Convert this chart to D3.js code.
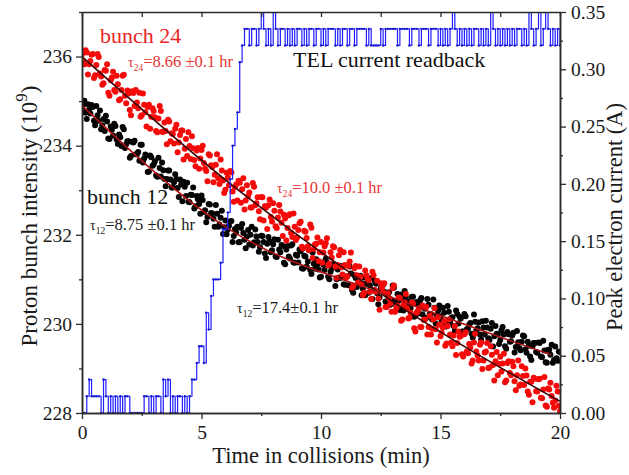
<!DOCTYPE html>
<html>
<head>
<meta charset="utf-8">
<script src="https://cdn.jsdelivr.net/npm/d3@7"></script>
<style>
  body { margin: 0; background: #fff; }
  svg { display: block; font-family: "Liberation Serif", "Times New Roman", serif; }
</style>
</head>
<body>
<div id="chart"></div>
<script>
// Axis ticks
const xTicks = [0, 5, 10, 15, 20];
const xMinorTicks = [2.5, 7.5, 12.5, 17.5];
const leftTicks = [228, 230, 232, 234, 236];
const leftMinorTicks = [229, 231, 233, 235, 237];
const rightTicks = [0, 0.05, 0.10, 0.15, 0.20, 0.25, 0.30, 0.35];
const rightMinorTicks = [0.025, 0.075, 0.125, 0.175, 0.225, 0.275, 0.325];

// Bunch 24 intensity (10^9) vs time (min)
const bunch24 = [
  [0,236.05],[0.1,235.83],[0.2,236.09],[0.3,235.83],[0.4,236.04],[0.5,235.52],[0.6,235.81],[0.7,235.99],[0.8,235.55],[0.9,235.40],
  [1,235.68],[1.1,235.19],[1.2,235.47],[1.3,235.66],[1.4,235.21],[1.5,235.38],[1.6,235.04],[1.7,235.57],[1.8,235.12],[1.9,235.24],
  [2,234.80],[2.1,235.22],[2.2,234.89],[2.3,234.97],[2.4,235.19],[2.5,234.68],[2.6,234.92],[2.7,234.43],[2.8,234.92],[2.9,234.65],
  [3,234.78],[3.1,234.33],[3.2,234.61],[3.3,234.78],[3.4,234.31],[3.5,234.33],[3.6,234.58],[3.7,234.10],[3.8,234.26],[3.9,234.38],
  [4,233.85],[4.1,234.24],[4.2,234.34],[4.3,233.93],[4.4,233.77],[4.5,233.99],[4.6,234.21],[4.7,233.68],[4.8,233.89],[4.9,233.48],
  [5,233.90],[5.1,233.61],[5.2,233.43],[5.3,233.81],[5.4,233.56],[5.5,233.18],[5.6,233.57],[5.7,233.27],[5.8,233.69],[5.9,233.22],
  [6,233.01],[6.1,233.28],[6.2,233.43],[6.3,232.97],[6.4,233.07],[6.5,232.77],[6.6,233.17],[6.7,233.02],[6.8,232.57],[6.9,233.11],
  [7,232.95],[7.1,232.61],[7.2,233.08],[7.3,232.71],[7.4,232.53],[7.5,232.85],[7.6,232.32],[7.7,232.61],[7.8,232.66],[7.9,232.40],
  [8,232.71],[8.1,232.19],[8.2,232.39],[8.3,232.52],[8.4,231.97],[8.5,232.37],[8.6,232.15],[8.7,232.46],[8.8,231.95],[8.9,232.18],
  [9,231.94],[9.1,232.26],[9.2,231.73],[9.3,232.09],[9.4,231.93],[9.5,231.66],[9.6,232.16],[9.7,231.68],[9.8,231.80],[9.9,231.41],
  [10,231.84],[10.1,231.60],[10.2,231.81],[10.3,231.31],[10.4,231.61],[10.5,231.74],[10.6,231.29],[10.7,231.32],[10.8,231.66],[10.9,231.11],
  [11,231.32],[11.1,231.07],[11.2,231.40],[11.3,230.81],[11.4,231.25],[11.5,231.09],[11.6,231.29],[11.7,230.89],[11.8,230.70],[11.9,231.09],
  [12,230.98],[12.1,230.56],[12.2,231.09],[12.3,230.72],[12.4,230.57],[12.5,230.91],[12.6,230.71],[12.7,230.38],[12.8,230.69],[12.9,230.46],
  [13,230.80],[13.1,230.27],[13.2,230.41],[13.3,230.58],[13.4,230.10],[13.5,230.48],[13.6,230.35],[13.7,230.14],[13.8,230.48],[13.9,229.90],
  [14,230.25],[14.1,230.35],[14.2,229.93],[14.3,230.09],[14.4,230.38],[14.5,229.93],[14.6,229.76],[14.7,230.10],[14.8,229.88],[14.9,230.15],
  [15,229.72],[15.1,229.92],[15.2,229.51],[15.3,229.95],[15.4,229.76],[15.5,229.50],[15.6,229.95],[15.7,229.57],[15.8,229.71],[15.9,229.32],
  [16,229.77],[16.1,229.38],[16.2,229.55],[16.3,229.11],[16.4,229.58],[16.5,229.38],[16.6,229.18],[16.7,229.58],[16.8,229.18],[16.9,229.38],
  [17,229.01],[17.1,229.50],[17.2,229.08],[17.3,229.16],[17.4,228.85],[17.5,229.26],[17.6,229.11],[17.7,228.69],[17.8,229.12],[17.9,228.90],
  [18,229.15],[18.1,228.71],[18.2,228.85],[18.3,228.61],[18.4,229.05],[18.5,228.63],[18.6,228.84],[18.7,228.41],[18.8,228.70],[18.9,228.79],
  [19,228.49],[19.1,228.76],[19.2,228.34],[19.3,228.53],[19.4,228.17],[19.5,228.55],[19.6,228.68],[19.7,228.23],[19.8,228.28],[19.9,228.48],
  [20,228.04]
];
// samples read between the ones above
const bunch24Mid = [
  [0.05,235.87],[0.15,236.14],[0.25,235.60],[0.35,235.90],[0.45,236.06],[0.55,235.58],[0.65,236.06],[0.75,235.62],[0.85,235.37],[0.95,235.70],
  [1.05,235.83],[1.15,235.12],[1.25,235.53],[1.35,235.25],[1.45,235.57],[1.55,235.02],[1.65,235.25],[1.75,235.59],[1.85,234.95],[1.95,235.17],
  [2.05,234.68],[2.15,235.18],[2.25,235.25],[2.35,234.84],[2.45,234.65],[2.55,235.17],[2.65,234.75],[2.75,234.87],[2.85,234.38],[2.95,234.84],
  [3.05,234.64],[3.15,234.30],[3.25,234.89],[3.35,234.31],[3.45,234.52],[3.55,234.03],[3.65,234.54],[3.75,234.28],[3.85,234.05],[3.95,234.47],
  [4.05,234.07],[4.15,234.34],[4.25,233.69],[4.35,234.15],[4.45,234.30],[4.55,233.70],[4.65,233.94],[4.75,233.54],[4.85,233.95],[4.95,233.71],
  [5.05,234.00],[5.15,233.49],[5.25,233.20],[5.35,233.78],[5.45,233.52],[5.55,233.35],[5.65,233.81],[5.75,233.14],[5.85,233.44],[5.95,232.94],
  [6.05,233.39],[6.15,233.11],[6.25,233.40],[6.35,232.74],[6.45,233.13],[6.55,233.21],[6.65,232.72],[6.75,233.27],[6.85,232.77],[6.95,232.87],
  [7.05,232.61],[7.15,233.16],[7.25,232.66],[7.35,232.84],[7.45,232.35],[7.55,232.84],[7.65,232.64],[7.75,232.13],[7.85,232.79],[7.95,232.30],
  [8.05,232.54],[8.15,232.15],[8.25,232.67],[8.35,232.27],[8.45,232.45],[8.55,231.87],[8.65,232.44],[8.75,232.04],[8.85,232.48],[8.95,231.88],
  [9.05,232.11],[9.15,232.29],[9.25,231.69],[9.35,232.07],[9.45,231.74],[9.55,232.23],[9.65,231.48],[9.75,231.79],[9.85,231.94],[9.95,231.61],
  [10.05,231.37],[10.15,231.74],[10.25,231.92],[10.35,231.35],[10.45,231.49],[10.55,231.72],[10.65,231.03],[10.75,231.54],[10.85,231.27],[10.95,231.61],
  [11.05,231.04],[11.15,231.30],[11.25,231.60],[11.35,230.85],[11.45,231.30],[11.55,230.93],[11.65,231.06],[11.75,230.64],[11.85,231.20],[11.95,231.01],
  [12.05,230.72],[12.15,231.17],[12.25,230.76],[12.35,230.97],[12.45,230.32],[12.55,230.81],[12.65,230.91],[12.75,230.38],[12.85,230.57],[12.95,230.27],
  [13.05,230.86],[13.15,230.35],[13.25,230.59],[13.35,230.07],[13.45,230.42],[13.55,230.67],[13.65,230.12],[13.75,230.25],[13.85,230.46],[13.95,229.83],
  [14.05,230.29],[14.15,229.93],[14.25,230.41],[14.35,230.10],[14.45,229.76],[14.55,230.18],[14.65,229.89],[14.75,230.35],[14.85,229.58],[14.95,229.98],
  [15.05,229.80],[15.15,230.06],[15.25,229.56],[15.35,230.10],[15.45,229.58],[15.55,229.74],[15.65,229.30],[15.75,229.83],[15.85,229.73],[15.95,229.27],
  [16.05,229.81],[16.15,229.34],[16.25,229.47],[16.35,229.18],[16.45,229.78],[16.55,229.29],[16.65,229.53],[16.75,228.99],[16.85,229.36],[16.95,229.57],
  [17.05,229.02],[17.15,229.31],[17.25,228.73],[17.35,229.37],[17.45,229.10],[17.55,228.93],[17.65,229.33],[17.75,228.73],[17.85,229.16],[17.95,228.85],
  [18.05,229.05],[18.15,228.51],[18.25,229.18],[18.35,228.64],[18.45,228.83],[18.55,229.00],[18.65,228.48],[18.75,228.70],[18.85,228.24],[18.95,228.77],
  [19.05,228.48],[19.15,228.77],[19.25,228.33],[19.35,228.81],[19.45,228.14],[19.55,228.53],[19.65,228.38],[19.75,228.12],[19.85,228.61],[19.95,228.16]
];

// Bunch 12 intensity (10^9) vs time (min)
const bunch12 = [
  [0,234.82],[0.1,235.01],[0.2,234.60],[0.3,234.81],[0.4,234.91],[0.5,234.56],[0.6,234.89],[0.7,234.56],[0.8,234.37],[0.9,234.60],
  [1,234.67],[1.1,234.16],[1.2,234.43],[1.3,234.23],[1.4,234.44],[1.5,234.04],[1.6,234.19],[1.7,234.42],[1.8,233.95],[1.9,234.10],
  [2,233.73],[2.1,234.08],[2.2,234.11],[2.3,233.81],[2.4,233.66],[2.5,234.02],[2.6,233.71],[2.7,233.78],[2.8,233.42],[2.9,233.74],
  [3,233.58],[3.1,233.33],[3.2,233.73],[3.3,233.31],[3.4,233.45],[3.5,233.09],[3.6,233.44],[3.7,233.24],[3.8,233.06],[3.9,233.36],
  [4,233.05],[4.1,233.24],[4.2,232.75],[4.3,233.08],[4.4,233.17],[4.5,232.73],[4.6,232.89],[4.7,232.59],[4.8,232.87],[4.9,232.69],
  [5,232.88],[5.1,232.51],[5.2,232.28],[5.3,232.69],[5.4,232.49],[5.5,232.36],[5.6,232.67],[5.7,232.18],[5.8,232.38],[5.9,232.02],
  [6,232.32],[6.1,232.12],[6.2,232.30],[6.3,231.84],[6.4,232.13],[6.5,232.18],[6.6,231.84],[6.7,232.24],[6.8,231.89],[6.9,231.96],
  [7,231.78],[7.1,232.18],[7.2,231.83],[7.3,231.96],[7.4,231.62],[7.5,231.98],[7.6,231.84],[7.7,231.48],[7.8,231.95],[7.9,231.61],
  [8,231.79],[8.1,231.51],[8.2,231.89],[8.3,231.61],[8.4,231.75],[8.5,231.34],[8.6,231.75],[8.7,231.47],[8.8,231.79],[8.9,231.37],
  [9,231.53],[9.1,231.67],[9.2,231.25],[9.3,231.53],[9.4,231.29],[9.5,231.65],[9.6,231.12],[9.7,231.35],[9.8,231.45],[9.9,231.22],
  [10,231.06],[10.1,231.33],[10.2,231.46],[10.3,231.06],[10.4,231.17],[10.5,231.34],[10.6,230.85],[10.7,231.22],[10.8,231.03],[10.9,231.28],
  [11,230.88],[11.1,231.07],[11.2,231.29],[11.3,230.76],[11.4,231.09],[11.5,230.83],[11.6,230.93],[11.7,230.64],[11.8,231.04],[11.9,230.90],
  [12,230.70],[12.1,231.03],[12.2,230.75],[12.3,230.90],[12.4,230.44],[12.5,230.80],[12.6,230.88],[12.7,230.50],[12.8,230.63],[12.9,230.43],
  [13,230.86],[13.1,230.50],[13.2,230.67],[13.3,230.31],[13.4,230.56],[13.5,230.74],[13.6,230.35],[13.7,230.45],[13.8,230.61],[13.9,230.16],
  [14,230.49],[14.1,230.24],[14.2,230.58],[14.3,230.37],[14.4,230.13],[14.5,230.43],[14.6,230.22],[14.7,230.55],[14.8,230.01],[14.9,230.30],
  [15,230.17],[15.1,230.36],[15.2,230.00],[15.3,230.40],[15.4,230.03],[15.5,230.15],[15.6,229.84],[15.7,230.22],[15.8,230.16],[15.9,229.83],
  [16,230.22],[16.1,229.88],[16.2,229.98],[16.3,229.78],[16.4,230.21],[16.5,229.86],[16.6,230.03],[16.7,229.65],[16.8,229.92],[16.9,230.07],
  [17,229.68],[17.1,229.89],[17.2,229.49],[17.3,229.95],[17.4,229.76],[17.5,229.64],[17.6,229.93],[17.7,229.50],[17.8,229.82],[17.9,229.60],
  [18,229.74],[18.1,229.36],[18.2,229.84],[18.3,229.46],[18.4,229.60],[18.5,229.72],[18.6,229.35],[18.7,229.51],[18.8,229.19],[18.9,229.57],
  [19,229.37],[19.1,229.58],[19.2,229.27],[19.3,229.62],[19.4,229.14],[19.5,229.42],[19.6,229.31],[19.7,229.13],[19.8,229.49],[19.9,229.17],
  [20,229.37]
];
const bunch12Mid = [
  [0.05,234.92],[0.15,234.74],[0.25,234.93],[0.35,234.72],[0.45,234.87],[0.55,234.46],[0.65,234.68],[0.75,234.79],[0.85,234.46],[0.95,234.33],
  [1.05,234.54],[1.15,234.15],[1.25,234.36],[1.35,234.49],[1.45,234.14],[1.55,234.25],[1.65,233.99],[1.75,234.37],[1.85,234.03],[1.95,234.10],
  [2.05,233.77],[2.15,234.07],[2.25,233.81],[2.35,233.86],[2.45,234.02],[2.55,233.62],[2.65,233.80],[2.75,233.41],[2.85,233.78],[2.95,233.55],
  [3.05,233.65],[3.15,233.30],[3.25,233.50],[3.35,233.62],[3.45,233.25],[3.55,233.25],[3.65,233.44],[3.75,233.06],[3.85,233.18],[3.95,233.25],
  [4.05,232.85],[4.15,233.13],[4.25,233.19],[4.35,232.87],[4.45,232.74],[4.55,232.90],[4.65,233.06],[4.75,232.64],[4.85,232.80],[4.95,232.47],
  [5.05,232.78],[5.15,232.55],[5.25,232.40],[5.35,232.68],[5.45,232.48],[5.55,232.18],[5.65,232.47],[5.75,232.23],[5.85,232.54],[5.95,232.17],
  [6.05,232.01],[6.15,232.20],[6.25,232.31],[6.35,231.97],[6.45,232.05],[6.55,231.83],[6.65,232.15],[6.75,232.04],[6.85,231.70],[6.95,232.11],
  [7.05,232.00],[7.15,231.76],[7.25,232.12],[7.35,231.84],[7.45,231.72],[7.55,231.97],[7.65,231.58],[7.75,231.80],[7.85,231.85],[7.95,231.65],
  [8.05,231.90],[8.15,231.50],[8.25,231.67],[8.35,231.77],[8.45,231.37],[8.55,231.67],[8.65,231.51],[8.75,231.76],[8.85,231.38],[8.95,231.55],
  [9.05,231.38],[9.15,231.63],[9.25,231.24],[9.35,231.51],[9.45,231.40],[9.55,231.21],[9.65,231.60],[9.75,231.24],[9.85,231.34],[9.95,231.04],
  [10.05,231.38],[10.15,231.21],[10.25,231.37],[10.35,231.00],[10.45,231.24],[10.55,231.34],[10.65,231.00],[10.75,231.04],[10.85,231.30],[10.95,230.89],
  [11.05,231.05],[11.15,230.87],[11.25,231.13],[11.35,230.70],[11.45,231.03],[11.55,230.92],[11.65,231.08],[11.75,230.79],[11.85,230.64],[11.95,230.94],
  [12.05,230.87],[12.15,230.56],[12.25,230.97],[12.35,230.69],[12.45,230.59],[12.55,230.86],[12.65,230.72],[12.75,230.47],[12.85,230.71],[12.95,230.54],
  [13.05,230.81],[13.15,230.42],[13.25,230.52],[13.35,230.66],[13.45,230.30],[13.55,230.59],[13.65,230.50],[13.75,230.35],[13.85,230.61],[13.95,230.18],
  [14.05,230.44],[14.15,230.53],[14.25,230.21],[14.35,230.34],[14.45,230.56],[14.55,230.22],[14.65,230.10],[14.75,230.36],[14.85,230.20],[14.95,230.41],
  [15.05,230.08],[15.15,230.25],[15.25,229.94],[15.35,230.27],[15.45,230.13],[15.55,229.95],[15.65,230.30],[15.75,230.01],[15.85,230.12],[15.95,229.83],
  [16.05,230.17],[16.15,229.89],[16.25,230.02],[16.35,229.69],[16.45,230.05],[16.55,229.90],[16.65,229.76],[16.75,230.06],[16.85,229.76],[16.95,229.92],
  [17.05,229.64],[17.15,230.02],[17.25,229.72],[17.35,229.78],[17.45,229.55],[17.55,229.86],[17.65,229.76],[17.75,229.44],[17.85,229.77],[17.95,229.61],
  [18.05,229.80],[18.15,229.48],[18.25,229.59],[18.35,229.41],[18.45,229.74],[18.55,229.43],[18.65,229.60],[18.75,229.27],[18.85,229.50],[18.95,229.57],
  [19.05,229.35],[19.15,229.57],[19.25,229.25],[19.35,229.40],[19.45,229.13],[19.55,229.42],[19.65,229.53],[19.75,229.19],[19.85,229.23],[19.95,229.38]
];

// Fitted decay curves
const fit24 = [[0,236.0],[6.2,233.15],[13,230.5],[20,228.26]];
const fit12 = [[0,234.9],[6.2,232.11],[12.9,230.61],[19.6,229.31]];

// TEL current readback (A) vs time (min)
const telCurrent = [
  [0,0],[0.1,0],[0.2,0.0146],[0.3,0.0292],[0.4,0.0146],[0.5,0.0146],[0.6,0.0146],[0.7,0.0146],[0.8,0],[0.9,0.0292],
  [1,0.0146],[1.1,0],[1.2,0.0146],[1.3,0],[1.4,0.0146],[1.5,0],[1.6,0.0146],[1.7,0],[1.8,0.0146],[1.9,0.0146],
  [2,0],[2.1,0],[2.2,0],[2.3,0],[2.4,0],[2.5,0],[2.6,0.0146],[2.7,0.0146],[2.8,0],[2.9,0.0146],
  [3,0],[3.1,0.0146],[3.2,0.0146],[3.3,0],[3.4,0.0292],[3.5,0.0146],[3.6,0.0292],[3.7,0],[3.8,0.0146],[3.9,0],
  [4,0.0146],[4.1,0.0146],[4.2,0],[4.3,0.0146],[4.4,0],[4.5,0.0146],[4.6,0.0292],[4.7,0.0292],[4.8,0.0437],[4.9,0.0583],
  [5,0.0583],[5.1,0.0437],[5.2,0.0875],[5.3,0.0729],[5.4,0.1021],[5.5,0.1166],[5.6,0.1166],[5.7,0.1166],[5.8,0.1312],[5.9,0.1604],
  [6,0.1604],[6.1,0.175],[6.2,0.2041],[6.3,0.2333],[6.4,0.2479],[6.5,0.2624],[6.6,0.3062],[6.7,0.3208],[6.8,0.3353],[6.9,0.3353],
  [7,0.3208],[7.1,0.3353],[7.2,0.3353],[7.3,0.3208],[7.4,0.3353],[7.5,0.35],[7.6,0.3353],[7.7,0.3208],[7.8,0.3353],[7.9,0.3208],
  [8,0.35],[8.1,0.3353],[8.2,0.3208],[8.3,0.3353],[8.4,0.3353],[8.5,0.3208],[8.6,0.3353],[8.7,0.3208],[8.8,0.3353],[8.9,0.3208],
  [9,0.3353],[9.1,0.3353],[9.2,0.3208],[9.3,0.3353],[9.4,0.3208],[9.5,0.3353],[9.6,0.3353],[9.7,0.3208],[9.8,0.3353],[9.9,0.3353],
  [10,0.3208],[10.1,0.3353],[10.2,0.3208],[10.3,0.3353],[10.4,0.3353],[10.5,0.3353],[10.6,0.3208],[10.7,0.3353],[10.8,0.3208],[10.9,0.3353],
  [11,0.3353],[11.1,0.3208],[11.2,0.3353],[11.3,0.3353],[11.4,0.3208],[11.5,0.3353],[11.6,0.3353],[11.7,0.3353],[11.8,0.3353],[11.9,0.3208],
  [12,0.3353],[12.1,0.3208],[12.2,0.3208],[12.3,0.3208],[12.4,0.3208],[12.5,0.3353],[12.6,0.3208],[12.7,0.3353],[12.8,0.3353],[12.9,0.3353],
  [13,0.3353],[13.1,0.3353],[13.2,0.3208],[13.3,0.3353],[13.4,0.3353],[13.5,0.3353],[13.6,0.3353],[13.7,0.3208],[13.8,0.3353],[13.9,0.3353],
  [14,0.3353],[14.1,0.3208],[14.2,0.3353],[14.3,0.3353],[14.4,0.3353],[14.5,0.3208],[14.6,0.3353],[14.7,0.3353],[14.8,0.3353],[14.9,0.3208],
  [15,0.3353],[15.1,0.3208],[15.2,0.3353],[15.3,0.3208],[15.4,0.3353],[15.5,0.35],[15.6,0.3353],[15.7,0.3208],[15.8,0.3353],[15.9,0.3208],
  [16,0.3353],[16.1,0.3208],[16.2,0.3353],[16.3,0.3208],[16.4,0.3353],[16.5,0.3353],[16.6,0.3208],[16.7,0.3353],[16.8,0.3208],[16.9,0.3353],
  [17,0.3208],[17.1,0.35],[17.2,0.3353],[17.3,0.3208],[17.4,0.3353],[17.5,0.3208],[17.6,0.3353],[17.7,0.3208],[17.8,0.3353],[17.9,0.3208],
  [18,0.3353],[18.1,0.3208],[18.2,0.3353],[18.3,0.3353],[18.4,0.3208],[18.5,0.3353],[18.6,0.3208],[18.7,0.35],[18.8,0.3353],[18.9,0.3208],
  [19,0.3353],[19.1,0.35],[19.2,0.3208],[19.3,0.3353],[19.4,0.35],[19.5,0.3353],[19.6,0.3208],[19.7,0.3353],[19.8,0.3208],[19.9,0.3353],
  [20,0.3208]
];

const width = 629, height = 475;
const margin = {top: 12, right: 69, bottom: 62, left: 82};
const innerW = width - margin.left - margin.right,
      innerH = height - margin.top - margin.bottom;

const svg = d3.select("#chart")
              .append("svg")
              .attr("width", width)
              .attr("height", height);

const g = svg.append("g")
             .attr("transform", `translate(${margin.left},${margin.top})`);

// Scales
const x = d3.scaleLinear().domain([0, 20]).range([0, innerW]);
const yL = d3.scaleLinear().domain([228, 237]).range([innerH, 0]);
const yR = d3.scaleLinear().domain([0, 0.35]).range([innerH, 0]);

const axisColor = "#2b2b2b";
const tickFont = "19.5px";

// Clip to plot area
svg.append("defs").append("clipPath").attr("id", "plotclip")
   .append("rect").attr("x", 0).attr("y", 0).attr("width", innerW).attr("height", innerH);

const plot = g.append("g").attr("clip-path", "url(#plotclip)");

// Scatter: bunch 12 then bunch 24
plot.append("g")
    .selectAll("circle")
    .data(bunch12.concat(bunch12Mid))
    .enter()
    .append("circle")
    .attr("cx", d => x(d[0]))
    .attr("cy", d => yL(d[1]))
    .attr("r", 3)
    .attr("fill", "#050505");

plot.append("g")
    .selectAll("circle")
    .data(bunch24.concat(bunch24Mid))
    .enter()
    .append("circle")
    .attr("cx", d => x(d[0]))
    .attr("cy", d => yL(d[1]))
    .attr("r", 3)
    .attr("fill", "#f50a0a");

// Fit lines
const fitLine = d3.line()
                  .x(d => x(d[0]))
                  .y(d => yL(d[1]))
                  .curve(d3.curveMonotoneX);

plot.append("path")
    .datum(fit24)
    .attr("d", fitLine)
    .attr("fill", "none")
    .attr("stroke", "#3a0505")
    .attr("stroke-width", 1.6);

plot.append("path")
    .datum(fit12)
    .attr("d", fitLine)
    .attr("fill", "none")
    .attr("stroke", "#b01010")
    .attr("stroke-width", 1.6);

// TEL current step line
const telLine = d3.line()
                  .x(d => x(d[0]))
                  .y(d => yR(d[1]))
                  .curve(d3.curveStepAfter);

plot.append("path")
    .datum(telCurrent)
    .attr("d", telLine)
    .attr("fill", "none")
    .attr("stroke", "#1f1fff")
    .attr("stroke-width", 1.2);

plot.append("g")
    .selectAll("circle")
    .data(telCurrent)
    .enter()
    .append("circle")
    .attr("cx", d => x(d[0]))
    .attr("cy", d => yR(d[1]))
    .attr("r", 1.2)
    .attr("fill", "#1a1ad0");

// Axes
function styleAxis(sel) {
  sel.selectAll(".domain").attr("stroke", axisColor).attr("stroke-width", 1.5);
  sel.selectAll(".tick line").attr("stroke", axisColor).attr("stroke-width", 1.3);
  sel.selectAll(".tick text")
     .attr("fill", "#1a1a1a")
     .style("font-size", tickFont)
     .style("font-family", "'Liberation Serif', 'Times New Roman', serif");
}

// bottom
g.append("g")
 .attr("transform", `translate(0,${innerH})`)
 .call(d3.axisBottom(x).tickValues(xTicks).tickSize(6).tickSizeOuter(0).tickPadding(6).tickFormat(d3.format("d")))
 .call(styleAxis);
g.append("g")
 .attr("transform", `translate(0,${innerH})`)
 .call(d3.axisBottom(x).tickValues(xMinorTicks).tickSize(3).tickSizeOuter(0).tickFormat(""))
 .call(styleAxis);

// top (inward ticks, no labels)
g.append("g")
 .call(d3.axisTop(x).tickValues(xTicks.concat(xMinorTicks)).tickSize(-5).tickSizeOuter(0).tickFormat(""))
 .call(styleAxis);

// left
g.append("g")
 .call(d3.axisLeft(yL).tickValues(leftTicks).tickSize(6).tickSizeOuter(0).tickPadding(4).tickFormat(d3.format("d")))
 .call(styleAxis);
g.append("g")
 .call(d3.axisLeft(yL).tickValues(leftMinorTicks).tickSize(3).tickSizeOuter(0).tickFormat(""))
 .call(styleAxis);

// right
g.append("g")
 .attr("transform", `translate(${innerW},0)`)
 .call(d3.axisRight(yR).tickValues(rightTicks).tickSize(6).tickSizeOuter(0).tickPadding(5).tickFormat(d3.format(".2f")))
 .call(styleAxis);
g.append("g")
 .attr("transform", `translate(${innerW},0)`)
 .call(d3.axisRight(yR).tickValues(rightMinorTicks).tickSize(3).tickSizeOuter(0).tickFormat(""))
 .call(styleAxis);

// Axis titles
svg.append("text")
   .attr("x", margin.left + innerW / 2)
   .attr("y", 463)
   .attr("text-anchor", "middle")
   .attr("fill", "#1a1a1a")
   .style("font-size", "22.5px")
   .text("Time in collisions (min)");

const yTitle = svg.append("text")
   .attr("transform", "translate(37,216) rotate(-90)")
   .attr("text-anchor", "middle")
   .attr("fill", "#1a1a1a")
   .style("font-size", "23px");
yTitle.append("tspan").text("Proton bunch intensity (10");
yTitle.append("tspan").text("9").attr("dy", -10).style("font-size", "17px");
yTitle.append("tspan").text(")").attr("dy", 10);

svg.append("text")
   .attr("transform", "translate(622,217) rotate(-90)")
   .attr("text-anchor", "middle")
   .attr("fill", "#1a1a1a")
   .style("font-size", "22.5px")
   .text("Peak electron current (A)");

// Annotations
function label(px, py, txt, color, size) {
  svg.append("text")
     .attr("x", px).attr("y", py)
     .attr("fill", color)
     .style("font-size", size)
     .text(txt);
}

function tauLabel(px, py, sub, rest, color) {
  const t = svg.append("text")
               .attr("x", px).attr("y", py)
               .attr("fill", color)
               .style("font-size", "16.5px");
  t.append("tspan").text("τ").style("font-size", "14px");
  t.append("tspan").text(sub).attr("dy", 4).style("font-size", "9.5px");
  t.append("tspan").text(rest).attr("dy", -4);
}

label(100, 43, "bunch 24", "#ea2626", "22px");
label(293, 67, "TEL current readback", "#111", "22px");
label(87, 204, "bunch 12", "#111", "22px");

tauLabel(128, 67, "24", "=8.66 ±0.1 hr", "#e83434");
tauLabel(277, 193, "24", "=10.0 ±0.1 hr", "#e83434");
tauLabel(90, 230, "12", "=8.75 ±0.1 hr", "#1a1a1a");
tauLabel(237, 313, "12", "=17.4±0.1 hr", "#1a1a1a");
</script>
</body>
</html>
